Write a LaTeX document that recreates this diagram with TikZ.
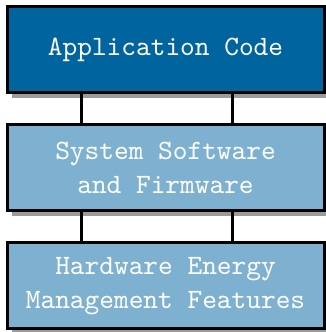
\documentclass[tikz,border=0pt]{standalone}
\usepackage{fontspec}
\newfontfamily\ttten{lmmono10-regular}[Extension=.otf]
\usetikzlibrary{shadows}
\definecolor{darkbox}{RGB}{0,101,158}
\definecolor{lightbox}{RGB}{126,177,208}
\definecolor{shadowgray}{RGB}{155,155,155}
\begin{document}
\begin{tikzpicture}[x=1pt,y=1pt,
  layerbox/.style={draw=black, line width=3pt, minimum width=317pt, minimum height=86pt,
    inner sep=0pt, align=center, text=white,
    font=\ttten\fontsize{28}{34}\selectfont,
    drop shadow={shadow xshift=5pt, shadow yshift=-5pt, fill=shadowgray, opacity=1}},
  link/.style={draw=black, line width=3pt}]
\useasboundingbox (0,0) rectangle (326,332);
\node[layerbox, fill=darkbox] (app) at (165.5,282) {Application Code};
\node[layerbox, fill=lightbox] (sys) at (165.5,164) {System Software\\and Firmware};
\node[layerbox, fill=lightbox] (hw) at (165.5,46) {Hardware Energy\\Management Features};
\coordinate (xl) at (81,0);
\coordinate (xr) at (232,0);
\draw[link] (app.south -| xl) -- (sys.north -| xl);
\draw[link] (app.south -| xr) -- (sys.north -| xr);
\draw[link] (sys.south -| xl) -- (hw.north -| xl);
\draw[link] (sys.south -| xr) -- (hw.north -| xr);
\end{tikzpicture}
\end{document}
